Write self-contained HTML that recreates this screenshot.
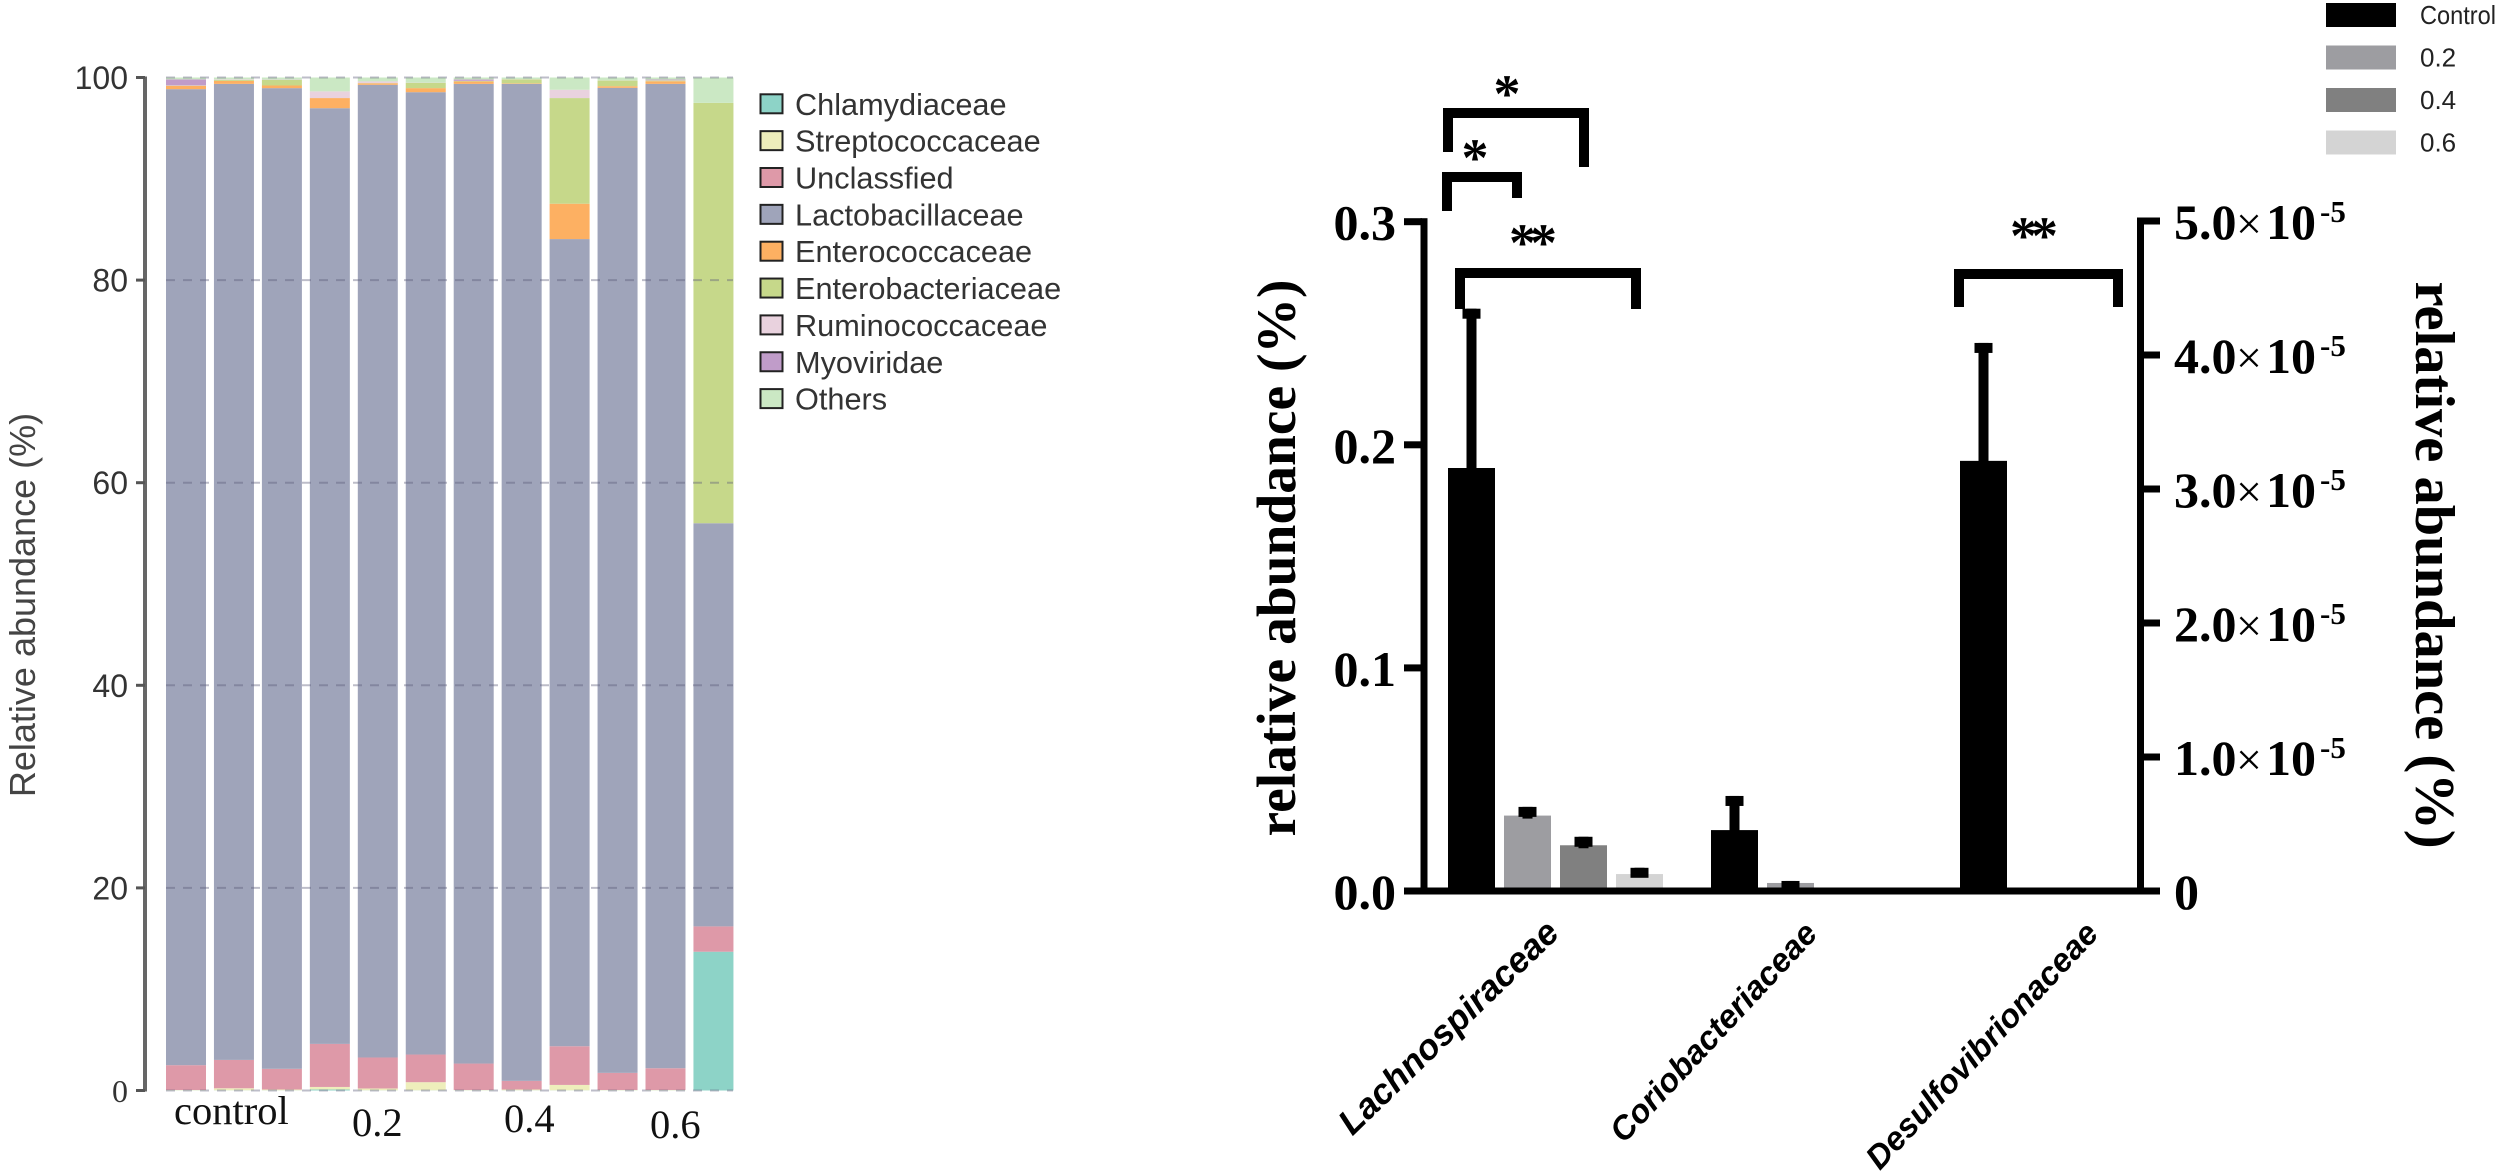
<!DOCTYPE html>
<html>
<head>
<meta charset="utf-8">
<title>Relative abundance charts</title>
<style>
html,body{margin:0;padding:0;background:#fff;}
svg{display:block;}
.sans{font-family:"Liberation Sans",sans-serif;}
.serif{font-family:"Liberation Serif",serif;}
</style>
</head>
<body>
<svg id="fig" width="2500" height="1176" viewBox="0 0 2500 1176" xmlns="http://www.w3.org/2000/svg">
  <rect x="0" y="0" width="2500" height="1176" fill="#fff"/>
  <g id="left-bars"></g>
  <g id="left-grid"></g>
  <g id="left-axis"></g>
  <text class="sans" x="35" y="605" transform="rotate(-90 35 605)" text-anchor="middle" font-size="36" fill="#444">Relative abundance (%)</text>
  <g id="left-groups" class="serif" font-size="40.5" fill="#111">
    <text x="174" y="1124">control</text>
    <text x="352" y="1136">0.2</text>
    <text x="504" y="1132">0.4</text>
    <text x="650" y="1138">0.6</text>
  </g>
  <g id="left-legend"></g>

  <g id="right-bars"></g>
  <g id="right-axes"></g>
  <text class="serif" x="1295" y="558" transform="rotate(-90 1295 558)" text-anchor="middle" font-size="55.5" font-weight="bold" fill="#000">relative abundance (%)</text>
  <text class="serif" x="2416" y="565" transform="rotate(90 2416 565)" text-anchor="middle" font-size="56.5" font-weight="bold" fill="#000">relative abundance (%)</text>

  <g fill="none" stroke="#000" stroke-width="10" stroke-linejoin="miter">
    <path d="M1448 152 V113 H1584 V167"/>
    <path d="M1447 211 V177 H1517 V198"/>
    <path d="M1460 309 V273 H1636 V309"/>
    <path d="M1959 307 V274 H2118 V307"/>
  </g>
  <g class="serif" font-size="54" font-weight="bold" fill="#000">
    <text x="1507" y="112" text-anchor="middle">*</text>
    <text x="1475" y="176" text-anchor="middle">*</text>
    <text x="1530" y="261" text-anchor="middle" letter-spacing="-6">**</text>
    <text x="2031" y="254" text-anchor="middle" letter-spacing="-6">**</text>
  </g>
  <g id="right-legend"></g>
  <g id="right-cats"></g>
</svg>
<script>
// ---------- stacked chart data (percent thickness per sample, bottom to top) ----------
const stackNames = ['Chlamydiaceae','Streptococcaceae','Unclassfied','Lactobacillaceae','Enterococcaceae','Enterobacteriaceae','Ruminococcaceae','Myoviridae','Others'];
const chlamydiaceae = [0.02,0.02,0.02,0.1,0.02,0.02,0.02,0.02,0.02,0.02,0.02,13.7];
const streptococcaceae = [0.03,0.2,0.08,0.25,0.18,0.8,0.03,0.08,0.53,0.03,0.03,0];
const unclassfied = [2.45,2.8,2.04,4.25,3.06,2.73,2.61,0.85,3.82,1.69,2.15,2.5];
const lactobacillaceae = [96.35,96.35,96.81,92.37,96.02,95,96.71,98.42,79.68,97.24,97.17,39.8];
const enterococcaceae = [0.33,0.3,0.26,1.0,0.15,0.4,0.23,0.05,3.49,0.16,0.26,0];
const enterobacteriaceae = [0.02,0.1,0.56,0,0.02,0.53,0.05,0.4,10.43,0.56,0.07,41.5];
const ruminococcaceae = [0.02,0.03,0.02,0.66,0.15,0.02,0.02,0.02,0.82,0.02,0.03,0];
const myoviridae = [0.6,0.02,0.01,0,0.02,0,0.13,0,0,0,0.07,0];
const others = [0.18,0.18,0.2,1.37,0.38,0.5,0.2,0.16,1.21,0.28,0.2,2.5];
const stackSeries = [chlamydiaceae,streptococcaceae,unclassfied,lactobacillaceae,enterococcaceae,enterobacteriaceae,ruminococcaceae,myoviridae,others];
const stackColors = ['#8dd3c7','#eeeebb','#de99a8','#9fa4ba','#fdb062','#c6d88a','#e9d2de','#c09cc9','#cbe8c4'];
const stackTicks = [0,20,40,60,80,100];
const stackGrid = [0,20,40,60,80,100];

// ---------- grouped chart data ----------
const groupNames = ['Control','0.2','0.4','0.6'];
const groupColors = ['#000000','#9d9da1','#808080','#d4d4d4'];
const categories = ['Lachnospiraceae','Coriobacteriaceae','Desulfovibrionaceae'];
const categoryFontSizes = [35.5,33,33];
const categoryAngles = [44,47,47];
const lachnoValues = [0.1896,0.0338,0.0205,0.0076];
const lachnoErrors = [0.0714,0.0039,0.0038,0.0028];
const corioValues = [0.0273,0.0036];
const corioErrors = [0.0153,0.0009];
const desulfoValues = [3.21];
const desulfoErrors = [0.88];
const leftTickValues = [0,0.1,0.2,0.3];
const leftTickLabels = ['0.0','0.1','0.2','0.3'];
const rightTickValues = [0,1,2,3,4,5];
const rightTickLabels = ['0','1.0','2.0','3.0','4.0','5.0'];

const NS = 'http://www.w3.org/2000/svg';
function mk(tag, attrs, parent){
  const el = document.createElementNS(NS, tag);
  for (const k in attrs) el.setAttribute(k, attrs[k]);
  parent.appendChild(el);
  return el;
}
const $ = id => document.getElementById(id);

// ---------- stacked axes ----------
const yStack = v => 1090.5 - 10.13 * v;
const xStack = i => 166 + 47.95 * i;
const STACK_W = 40;

stackSeries[0].forEach((_, i) => {
  let acc = 0;
  stackSeries.forEach((series, s) => {
    const v = series[i];
    if (v <= 0) return;
    const r = mk('rect', {x: xStack(i), y: yStack(acc + v), width: STACK_W, height: yStack(acc) - yStack(acc + v), fill: stackColors[s]}, $('left-bars'));
    
    
    acc += v;
  });
});

stackGrid.forEach(v => {
  const l = mk('line', {x1: 166, x2: 733, y1: yStack(v), y2: yStack(v), stroke: '#5a5a78', 'stroke-opacity': 0.4, 'stroke-width': 2, 'stroke-dasharray': '9 8'}, $('left-grid'));
  
  
});

const stackAxisLine = mk('line', {x1: 145, x2: 145, y1: yStack(100) - 1, y2: yStack(0) + 1, stroke: '#666', 'stroke-width': 4}, $('left-axis'));


stackTicks.forEach(v => {
  const t = mk('line', {x1: 136, x2: 145, y1: yStack(v), y2: yStack(v), stroke: '#555', 'stroke-width': 3}, $('left-axis'));
  
  
  const lab = mk('text', {x: 128, y: yStack(v) + 11.5, 'text-anchor': 'end', 'font-size': 32, fill: '#333', 'font-family': v === 0 ? '"Liberation Serif",serif' : '"Liberation Sans",sans-serif'}, $('left-axis'));
  lab.textContent = String(v);
  
  
});

stackNames.forEach((n, i) => {
  const cy = 103.8 + 36.85 * i;
  const sw = mk('rect', {x: 760.5, y: cy - 9.5, width: 22, height: 19, fill: stackColors[i], stroke: '#222', 'stroke-width': 2}, $('left-legend'));
  
  
  const tx = mk('text', {x: 795, y: cy + 11, 'font-size': 30.7, fill: '#333', 'font-family': '"Liberation Sans",sans-serif'}, $('left-legend'));
  tx.textContent = n;
  
  
});

// ---------- grouped axes ----------
const yLeft = v => 891 - 2231 * v;
const yRight = v => 891 - 134 * v;
const xGroup = (c, s) => 1448 + 263 * c + 56 * s;
const BAR_W = 47;

function drawBar(x, top, bottom, errTop, color, name){
  const r = mk('rect', {x: x, y: top, width: BAR_W, height: bottom - top, fill: color}, $('right-bars'));
  
  
  const cx = x + BAR_W / 2;
  const stem = mk('rect', {x: cx - 5, y: errTop, width: 10, height: top + 3 - errTop, fill: '#000'}, $('right-bars'));
  
  
  const cap = mk('rect', {x: cx - 9, y: errTop, width: 18, height: 10, fill: '#000'}, $('right-bars'));
  
  
}
lachnoValues.forEach((v, s) => drawBar(xGroup(0, s), yLeft(v), yLeft(0), yLeft(v + lachnoErrors[s]), groupColors[s], 'lachnospiraceae-' + groupNames[s]));
corioValues.forEach((v, s) => drawBar(xGroup(1, s), yLeft(v), yLeft(0), yLeft(v + corioErrors[s]), groupColors[s], 'coriobacteriaceae-' + groupNames[s]));
desulfoValues.forEach((v, s) => drawBar(1960, yRight(v), yRight(0), yRight(v + desulfoErrors[s]), groupColors[s], 'desulfovibrionaceae-' + groupNames[s]));

const axL = mk('rect', {x: 1420.5, y: yLeft(0.3) - 3.5, width: 7, height: yLeft(0) - yLeft(0.3) + 7, fill: '#000'}, $('right-axes'));


const axR = mk('rect', {x: 2137, y: yRight(5) - 3.5, width: 7, height: yRight(0) - yRight(5) + 7, fill: '#000'}, $('right-axes'));


const axX = mk('rect', {x: 1404, y: 887.5, width: 740, height: 7, fill: '#000'}, $('right-axes'));



leftTickValues.forEach((v, i) => {
  const t = mk('rect', {x: 1404, y: yLeft(v) - 3.5, width: 18, height: 7, fill: '#000'}, $('right-axes'));
  
  
  const lab = mk('text', {x: 1396, y: yLeft(v) + 18, 'text-anchor': 'end', 'font-size': 50, 'font-weight': 'bold', fill: '#000', 'font-family': '"Liberation Serif",serif'}, $('right-axes'));
  lab.textContent = leftTickLabels[i];
  
  
});
rightTickValues.forEach((v, i) => {
  const t = mk('rect', {x: 2142, y: yRight(v) - 3.5, width: 18, height: 7, fill: '#000'}, $('right-axes'));
  
  
  const lab = mk('text', {x: 2174, y: yRight(v) + 18, 'font-size': 50, 'font-weight': 'bold', fill: '#000', 'font-family': '"Liberation Serif",serif'}, $('right-axes'));
  
  
  lab.textContent = rightTickLabels[i];
  if (v !== 0) {
    const times = mk('text', {x: 2236, y: yRight(v) + 18, 'font-size': 46, fill: '#000', 'font-family': '"Liberation Serif",serif'}, $('right-axes'));
    times.textContent = '\u00D7';
    
    
    const ten = mk('text', {x: 2266, y: yRight(v) + 18, 'font-size': 50, 'font-weight': 'bold', fill: '#000', 'font-family': '"Liberation Serif",serif'}, $('right-axes'));
    ten.textContent = '10';
    
    
    const sup = mk('text', {x: 2320, y: yRight(v) + 1, 'font-size': 31, 'font-weight': 'bold', fill: '#000', 'font-family': '"Liberation Serif",serif'}, $('right-axes'));
    sup.textContent = '-5';
    
    
  }
});

groupNames.forEach((n, i) => {
  const cy = 15 + 42.5 * i;
  const sw = mk('rect', {x: 2326, y: cy - 12, width: 70, height: 24, fill: groupColors[i]}, $('right-legend'));
  
  
  const tx = mk('text', {x: 2420, y: cy + 9, 'font-size': 26, fill: '#222', 'font-family': '"Liberation Sans",sans-serif'}, $('right-legend'));
  tx.textContent = n;
  
  
  if (n === 'Control') {
    tx.setAttribute('textLength', '76');
    tx.setAttribute('lengthAdjust', 'spacingAndGlyphs');
  }
});

const catAnchorX = c => c === 2 ? 2100 : 1561 + 258 * c;
categories.forEach((n, c) => {
  const ax = catAnchorX(c), ay = 935;
  const t = mk('text', {x: ax, y: ay, 'text-anchor': 'end', transform: 'rotate(-' + categoryAngles[c] + ' ' + ax + ' ' + ay + ')', 'font-size': categoryFontSizes[c], 'font-weight': 'bold', 'font-style': 'italic', fill: '#000', 'font-family': '"Liberation Sans",sans-serif'}, $('right-cats'));
  t.textContent = n;
  
  
});
</script>
</body>
</html>
